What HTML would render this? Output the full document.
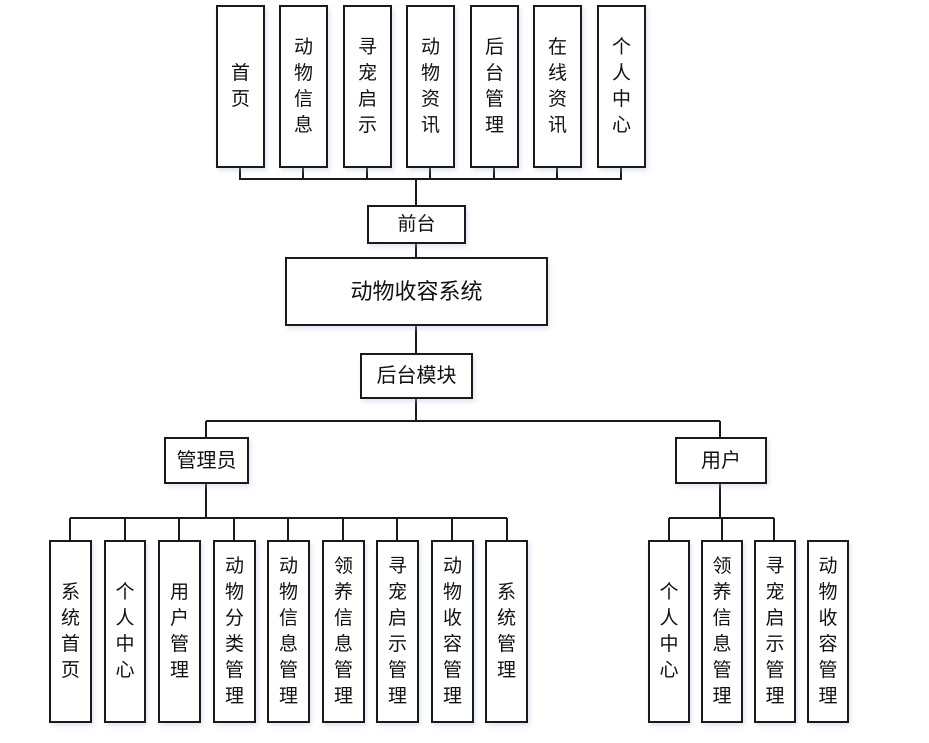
<!DOCTYPE html>
<html><head><meta charset="utf-8"><style>
body{margin:0;width:929px;height:743px;background:#fff;position:relative;overflow:hidden;font-family:"Liberation Sans","Noto Sans CJK SC",sans-serif;color:#111}
.b{position:absolute;box-sizing:border-box;border:2px solid #1a1a1a;background:#fff;display:flex;align-items:center;justify-content:center;text-align:center;font-size:19px;line-height:26px;box-shadow:2px 3px 4px rgba(170,190,220,0.35)}
svg{position:absolute;left:0;top:0}
</style></head><body>
<svg width="929" height="743">
<g stroke="#1a1a1a" stroke-width="2" fill="none">
<path d="M240 167V179H621V167M303 167V179M367 167V179M430 167V179M494 167V179M557 167V179"/>
<path d="M416 179V205M416 243V257M416 325V353M416 398V421M206 421H720M206 421V437M720 421V437"/>
<path d="M206 483V518M70 518H507M70 518V540M125 518V540M179 518V540M234 518V540M288 518V540M343 518V540M397 518V540M452 518V540M507 518V540"/>
<path d="M720 483V518M669 518H774M669 518V540M722 518V540M774 518V540"/>
</g></svg>

<div class="b" style="left:216px;top:5px;width:49px;height:163px">首<br>页</div>
<div class="b" style="left:279px;top:5px;width:49px;height:163px">动<br>物<br>信<br>息</div>
<div class="b" style="left:343px;top:5px;width:49px;height:163px">寻<br>宠<br>启<br>示</div>
<div class="b" style="left:406px;top:5px;width:49px;height:163px">动<br>物<br>资<br>讯</div>
<div class="b" style="left:470px;top:5px;width:49px;height:163px">后<br>台<br>管<br>理</div>
<div class="b" style="left:533px;top:5px;width:49px;height:163px">在<br>线<br>资<br>讯</div>
<div class="b" style="left:597px;top:5px;width:49px;height:163px">个<br>人<br>中<br>心</div>

<div class="b" style="left:367px;top:205px;width:99px;height:39px">前台</div>
<div class="b" style="left:285px;top:257px;width:263px;height:69px;font-size:22px">动物收容系统</div>
<div class="b" style="left:360px;top:353px;width:113px;height:46px;font-size:20px">后台模块</div>
<div class="b" style="left:164px;top:437px;width:85px;height:47px;font-size:20px">管理员</div>
<div class="b" style="left:675px;top:437px;width:92px;height:47px;font-size:20px">用户</div>

<div class="b" style="left:49px;top:540px;width:43px;height:183px">系<br>统<br>首<br>页</div>
<div class="b" style="left:104px;top:540px;width:42px;height:183px">个<br>人<br>中<br>心</div>
<div class="b" style="left:158px;top:540px;width:43px;height:183px">用<br>户<br>管<br>理</div>
<div class="b" style="left:213px;top:540px;width:43px;height:183px">动<br>物<br>分<br>类<br>管<br>理</div>
<div class="b" style="left:267px;top:540px;width:43px;height:183px">动<br>物<br>信<br>息<br>管<br>理</div>
<div class="b" style="left:322px;top:540px;width:43px;height:183px">领<br>养<br>信<br>息<br>管<br>理</div>
<div class="b" style="left:376px;top:540px;width:43px;height:183px">寻<br>宠<br>启<br>示<br>管<br>理</div>
<div class="b" style="left:431px;top:540px;width:43px;height:183px">动<br>物<br>收<br>容<br>管<br>理</div>
<div class="b" style="left:485px;top:540px;width:43px;height:183px">系<br>统<br>管<br>理</div>

<div class="b" style="left:648px;top:540px;width:42px;height:183px">个<br>人<br>中<br>心</div>
<div class="b" style="left:701px;top:540px;width:42px;height:183px">领<br>养<br>信<br>息<br>管<br>理</div>
<div class="b" style="left:754px;top:540px;width:42px;height:183px">寻<br>宠<br>启<br>示<br>管<br>理</div>
<div class="b" style="left:807px;top:540px;width:42px;height:183px">动<br>物<br>收<br>容<br>管<br>理</div>
</body></html>
